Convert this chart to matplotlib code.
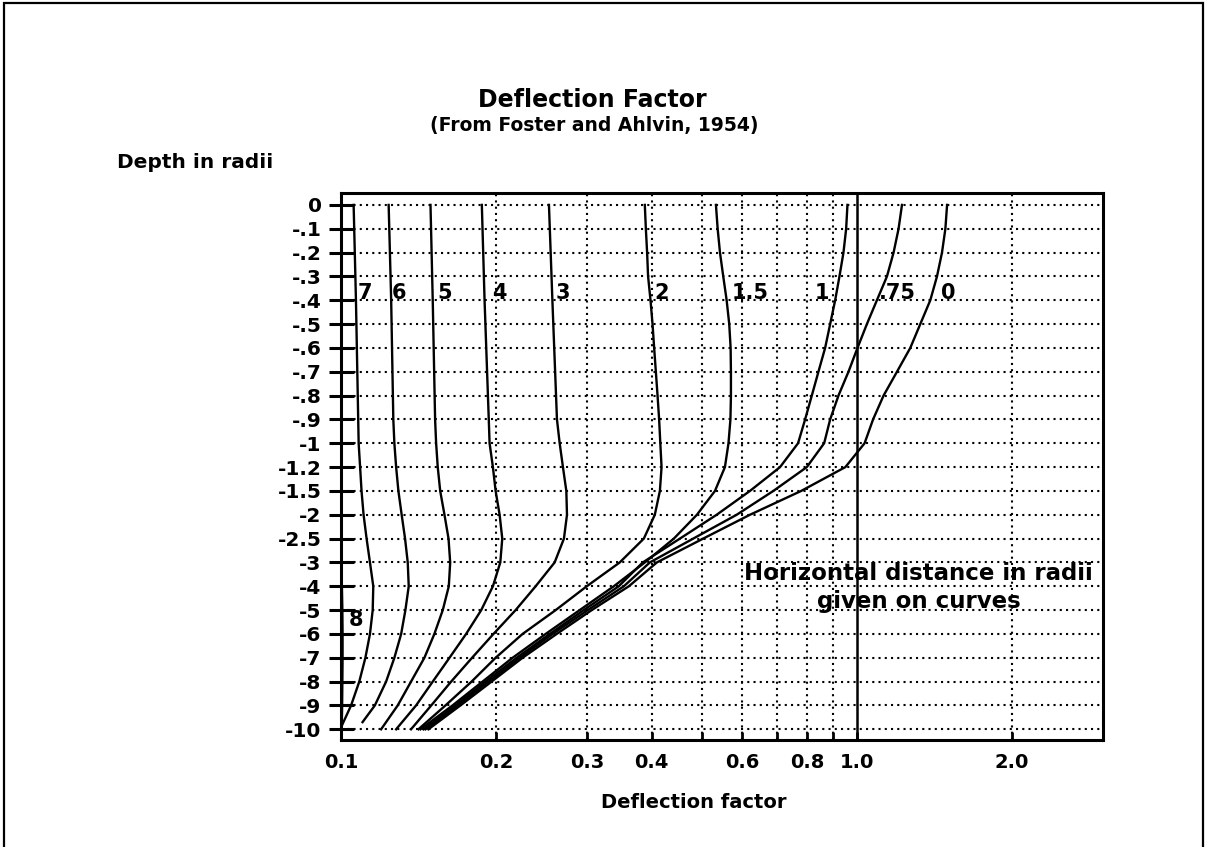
"""
Deflection factor chart (Foster and Ahlvin, 1954) redrawn with matplotlib.
Saves out.png.
"""

import matplotlib
matplotlib.use("Agg")
import matplotlib.pyplot as plt
from matplotlib.patches import Rectangle

plt.rcParams["font.family"] = ["DejaVu Sans"]
plt.rcParams["font.weight"] = "bold"

# ── Axis categories ────────────────────────────────────────────────────────────
# depth rows are evenly spaced on the chart, so each row is an index 0..22
DEPTH_LABELS = ["0", "-.1", "-.2", "-.3", "-.4", "-.5", "-.6", "-.7", "-.8", "-.9",
                "-1", "-1.2", "-1.5", "-2", "-2.5", "-3", "-4", "-5", "-6", "-7",
                "-8", "-9", "-10"]
XTICKS = [0.1, 0.2, 0.3, 0.4, 0.5, 0.6, 0.7, 0.8, 0.9, 1.0, 2.0]
XTICK_LABELS = ["0.1", "0.2", "0.3", "0.4", "", "0.6", "", "0.8", "", "1.0", "2.0"]

ALL_ROWS = list(range(23))
SHORT_ROWS = [0, 4, 9, 10, 11, 12, 13, 14, 15, 16, 17, 18, 19, 20, 21, 22]

# ── Curves: (row index, deflection factor), one per horizontal distance ────────
rows_8 = [15.6, 16, 17, 18, 19, 20, 21, 22]
vals_8 = [0.1002, 0.1004, 0.1006, 0.1007, 0.1007, 0.1006, 0.1005, 0.1003]

rows_7 = [0, 4, 10, 11, 12, 13, 14, 15, 16, 17, 18, 19, 20, 21, 21.8]
vals_7 = [0.1058, 0.1069, 0.1082, 0.1089, 0.1096, 0.1106, 0.1121, 0.1138,
          0.1155, 0.1152, 0.1138, 0.1115, 0.1085, 0.1046, 0.1006]

rows_6 = [0, 4, 9, 10, 11, 12, 13, 14, 15, 16, 17, 18, 19, 20, 21, 21.7]
vals_6 = [0.1237, 0.1251, 0.1263, 0.1269, 0.1279, 0.1292, 0.1311, 0.1331,
          0.1347, 0.1353, 0.1333, 0.1308, 0.1269, 0.1223, 0.1163, 0.1101]

rows_5 = SHORT_ROWS
vals_5 = [0.1491, 0.1506, 0.1522, 0.1529, 0.1540, 0.1557, 0.1587, 0.1616,
          0.1628, 0.1618, 0.1575, 0.1517, 0.1451, 0.1367, 0.1288, 0.1196]

rows_4 = SHORT_ROWS
vals_4 = [0.1875, 0.1898, 0.1934, 0.1941, 0.1970, 0.1994, 0.2030, 0.2054,
          0.2036, 0.1970, 0.1870, 0.1748, 0.1623, 0.1506, 0.1398, 0.1279]

rows_3 = SHORT_ROWS
vals_3 = [0.2530, 0.2569, 0.2622, 0.2654, 0.2693, 0.2734, 0.2742, 0.2705,
          0.2595, 0.2384, 0.2180, 0.1975, 0.1795, 0.1635, 0.1496, 0.1367]

rows_2 = ALL_ROWS
vals_2 = [0.3881, 0.3899, 0.3921, 0.3938, 0.3981, 0.4017, 0.4046, 0.4077,
          0.4108, 0.4137, 0.4159, 0.4182, 0.4151, 0.4058, 0.3864, 0.3470,
          0.2995, 0.2607, 0.2249, 0.1994, 0.1791, 0.1594, 0.1413]

rows_15 = ALL_ROWS
vals_15 = [0.5331, 0.5372, 0.5428, 0.5508, 0.5592, 0.5657, 0.5692, 0.5700,
           0.5700, 0.5687, 0.5638, 0.5549, 0.5308, 0.4897, 0.4418, 0.3881,
           0.3379, 0.2902, 0.2493, 0.2151, 0.1881, 0.1645, 0.1426]

rows_1 = ALL_ROWS
vals_1 = [0.9588, 0.9533, 0.9419, 0.9252, 0.9077, 0.8876, 0.8679, 0.8423,
          0.8178, 0.7937, 0.7691, 0.7097, 0.6205, 0.5348, 0.4539, 0.3846,
          0.3455, 0.2954, 0.2539, 0.2190, 0.1906, 0.1667, 0.1445]

rows_075 = ALL_ROWS
vals_075 = [1.2230, 1.2046, 1.1780, 1.1437, 1.0935, 1.0457, 1.0028, 0.9632,
            0.9211, 0.8876, 0.8641, 0.7998, 0.6888, 0.5848, 0.4817, 0.3969,
            0.3534, 0.3008, 0.2572, 0.2220, 0.1932, 0.1682, 0.1458]

rows_0 = ALL_ROWS
vals_0 = [1.4958, 1.4845, 1.4622, 1.4299, 1.3878, 1.3271, 1.2692, 1.1960,
          1.1265, 1.0750, 1.0350, 0.9500, 0.7800, 0.6205, 0.5036, 0.4095,
          0.3614, 0.3062, 0.2619, 0.2249, 0.1958, 0.1704, 0.1477]

CURVES = [
    (rows_8, vals_8), (rows_7, vals_7), (rows_6, vals_6), (rows_5, vals_5),
    (rows_4, vals_4), (rows_3, vals_3), (rows_2, vals_2), (rows_15, vals_15),
    (rows_1, vals_1), (rows_075, vals_075), (rows_0, vals_0),
]

# curve labels: text, x (factor), row
CURVE_LABELS = [
    ("7", 0.1110, 3.7), ("6", 0.1298, 3.7), ("5", 0.1587, 3.7),
    ("4", 0.2030, 3.7), ("3", 0.2690, 3.7), ("2", 0.4188, 3.7),
    ("1.5", 0.6205, 3.7), ("1", 0.8564, 3.7), (".75", 1.1976, 3.7),
    ("0", 1.5045, 3.7), ("8", 0.1071, 17.4),
]

# ── Figure ─────────────────────────────────────────────────────────────────────
W, H = 1206, 847
fig = plt.figure(figsize=(W / 100, H / 100), dpi=100)
fig.patch.set_facecolor("white")
ax = fig.add_axes([341 / W, 1 - 740 / H, (1103 - 341) / W, (740 - 193) / H])

for rows, vals in CURVES:
    ax.plot(vals, rows, color="black", lw=1.7, solid_joinstyle="round")

ax.set_xscale("log")
ax.set_xlim(0.1, 3.0)
ax.set_ylim(22.45, -0.5)

ax.set_xticks(XTICKS)
ax.set_xticklabels(XTICK_LABELS)
ax.xaxis.set_minor_locator(plt.NullLocator())
ax.set_yticks(range(len(DEPTH_LABELS)))
ax.set_yticklabels(DEPTH_LABELS)

ax.tick_params(axis="x", direction="in", length=6, width=2, labelsize=14, pad=9)
ax.tick_params(axis="y", direction="inout", length=18, width=2.2, labelsize=14.5, pad=5)

ax.grid(True, color="black", lw=1.5, linestyle=(0, (1, 2)))
# the 1.0 grid line is drawn solid
grid_x = ax.get_xgridlines()
grid_x[XTICKS.index(1.0)].set_linestyle("-")
grid_x[XTICKS.index(1.0)].set_linewidth(1.8)

for s in ax.spines.values():
    s.set_linewidth(2.2)

for text, x, r in CURVE_LABELS:
    ax.text(x, r, text, ha="center", va="center", fontsize=15, fontweight="bold")

ax.text(1.318, 15.45, "Horizontal distance in radii", ha="center", va="center",
        fontsize=16.5, fontweight="bold")
ax.text(1.318, 16.65, "given on curves", ha="center", va="center",
        fontsize=16.5, fontweight="bold")

# ── Titles and axis names ──────────────────────────────────────────────────────
fig.text(592 / W, 1 - 100 / H, "Deflection Factor", ha="center", va="center",
         fontsize=17, fontweight="bold")
fig.text(594 / W, 1 - 126 / H, "(From Foster and Ahlvin, 1954)", ha="center",
         va="center", fontsize=13.5, fontweight="bold")
fig.text(195 / W, 1 - 163 / H, "Depth in radii", ha="center", va="center",
         fontsize=14.5, fontweight="bold")
fig.text(694 / W, 1 - 802 / H, "Deflection factor", ha="center", va="center",
         fontsize=14, fontweight="bold")

# page frame (bottom edge runs off the image)
fig.add_artist(Rectangle((4 / W, -0.05), (1203 - 4) / W, 1 - 3 / H + 0.05,
                         transform=fig.transFigure, fill=False, lw=1.6,
                         edgecolor="black"))

fig.savefig("out.png", dpi=100, facecolor="white")
plt.close(fig)
